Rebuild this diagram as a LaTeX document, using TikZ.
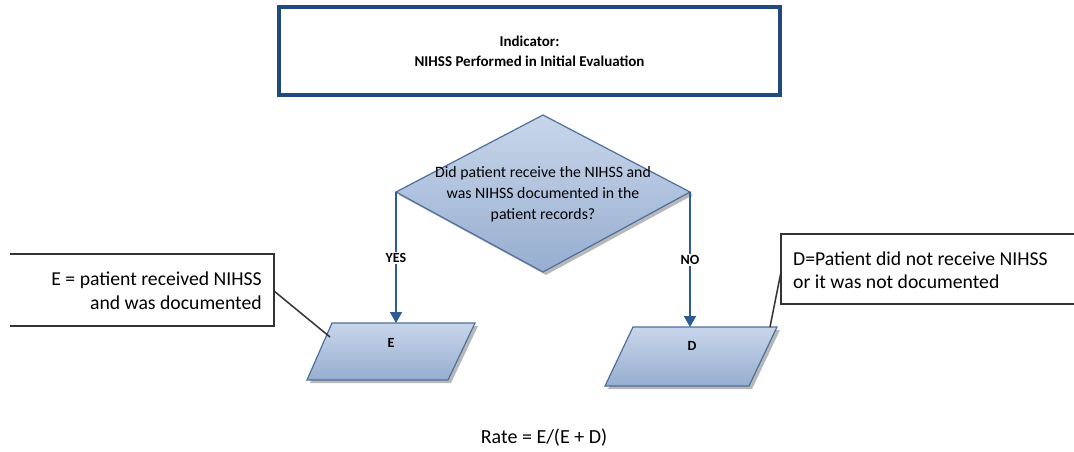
\documentclass[tikz,border=0pt]{standalone}
\usepackage{fontspec}
\setmainfont{Carlito}
\usetikzlibrary{arrows.meta}
\definecolor{navy}{HTML}{1F4A7D}
\definecolor{shapeedge}{HTML}{4F6F9E}
\definecolor{filltop}{HTML}{C8D6EA}
\definecolor{fillbot}{HTML}{97AED0}
\definecolor{arrowblue}{HTML}{2D5B92}
\definecolor{boxedge}{HTML}{333333}
\definecolor{shadowgray}{HTML}{B8B8B8}
\tikzset{
  flowarrow/.style={draw=arrowblue, line width=1.8pt, -{Triangle[width=12pt,length=11pt]}},
  flowshape/.style={draw=shapeedge, line width=1.2pt, top color=filltop, bottom color=fillbot},
  shadowshape/.style={fill=shadowgray},
  calloutline/.style={draw=boxedge, line width=1.5pt},
  calloutbox/.style={draw=boxedge, line width=1.8pt},
  branchlabel/.style={fill=white, inner sep=1.5pt, font=\fontsize{14}{16}\selectfont\bfseries},
  calltext/.style={inner sep=0pt, font=\fontsize{19.7}{23.5}\selectfont},
}
\begin{document}
\begin{tikzpicture}[x=1pt,y=-1pt]
\useasboundingbox[fill=white] (0,0) rectangle (1074,452);

% title box
\node[draw=navy, line width=4pt, minimum width=501pt, minimum height=88pt, align=center,
      font=\fontsize{15}{20}\selectfont\bfseries] (title) at (529.5,51)
  {Indicator:\\NIHSS Performed in Initial Evaluation};

% diamond
\coordinate (dt) at (543,115);
\coordinate (dl) at (396,192);
\coordinate (dr) at (690,192);
\coordinate (db) at (543,272);
\fill[shadowshape] ([shift={(3,3)}]dt) -- ([shift={(3,3)}]dr) -- ([shift={(3,3)}]db) -- ([shift={(3,3)}]dl) -- cycle;
\path[flowshape] (dt) -- (dr) -- (db) -- (dl) -- cycle;
\node[align=center, font=\fontsize{15.8}{21}\selectfont] (q) at (543,194)
  {Did patient receive the NIHSS and\\was NIHSS documented in the\\patient records?};

% E parallelogram
\coordinate (e1) at (332,323);
\coordinate (e2) at (475,323);
\coordinate (e3) at (448,380);
\coordinate (e4) at (307,380);
\fill[shadowshape] ([shift={(3,3)}]e1) -- ([shift={(3,3)}]e2) -- ([shift={(3,3)}]e3) -- ([shift={(3,3)}]e4) -- cycle;
\path[flowshape] (e1) -- (e2) -- (e3) -- (e4) -- cycle;
\node[font=\fontsize{14}{16}\selectfont\bfseries] (E) at (391,343) {E};
\coordinate (etop) at (396,323);

% D parallelogram
\coordinate (d1) at (633,327);
\coordinate (d2) at (777,327);
\coordinate (d3) at (749,386);
\coordinate (d4) at (605,386);
\fill[shadowshape] ([shift={(3,3)}]d1) -- ([shift={(3,3)}]d2) -- ([shift={(3,3)}]d3) -- ([shift={(3,3)}]d4) -- cycle;
\path[flowshape] (d1) -- (d2) -- (d3) -- (d4) -- cycle;
\node[font=\fontsize{14}{16}\selectfont\bfseries] (D) at (692,346) {D};
\coordinate (dtop) at (690,327);

% branches
\draw[flowarrow] (dl) -- (etop);
\draw[flowarrow] (dr) -- (dtop);
\node[branchlabel] (yes) at (396,258) {YES};
\node[branchlabel] (no) at (690,260) {NO};

% E callout
\coordinate (ebl) at (10,326);
\coordinate (ebr) at (274,326);
\coordinate (etr) at (274,254);
\coordinate (etl) at (10,254);
\draw[calloutbox] (etl) -- (etr) -- (ebr) -- (ebl);
\node[calltext, align=right, anchor=east] (etext) at (262,290.5)
  {E = patient received NIHSS\\and was documented};
\coordinate (ecall) at (274,291);
\coordinate (eshape) at (330,337);
\draw[calloutline] (ecall) -- (eshape);

% D callout
\coordinate (dtl) at (1074,234);
\coordinate (dtlx) at (781,234);
\coordinate (dblx) at (781,304);
\coordinate (dbl) at (1074,304);
\draw[calloutbox] (dtl) -- (dtlx) -- (dblx) -- (dbl);
\node[calltext, align=left, anchor=west] (dtext) at (793,270)
  {D=Patient did not receive NIHSS\\or it was not documented};
\coordinate (dcall) at (781,272);
\coordinate (dshape) at (770,327);
\draw[calloutline] (dcall) -- (dshape);

% rate
\node[font=\fontsize{20}{24}\selectfont] (rate) at (544,438) {Rate = E/(E + D)};
\end{tikzpicture}
\end{document}
